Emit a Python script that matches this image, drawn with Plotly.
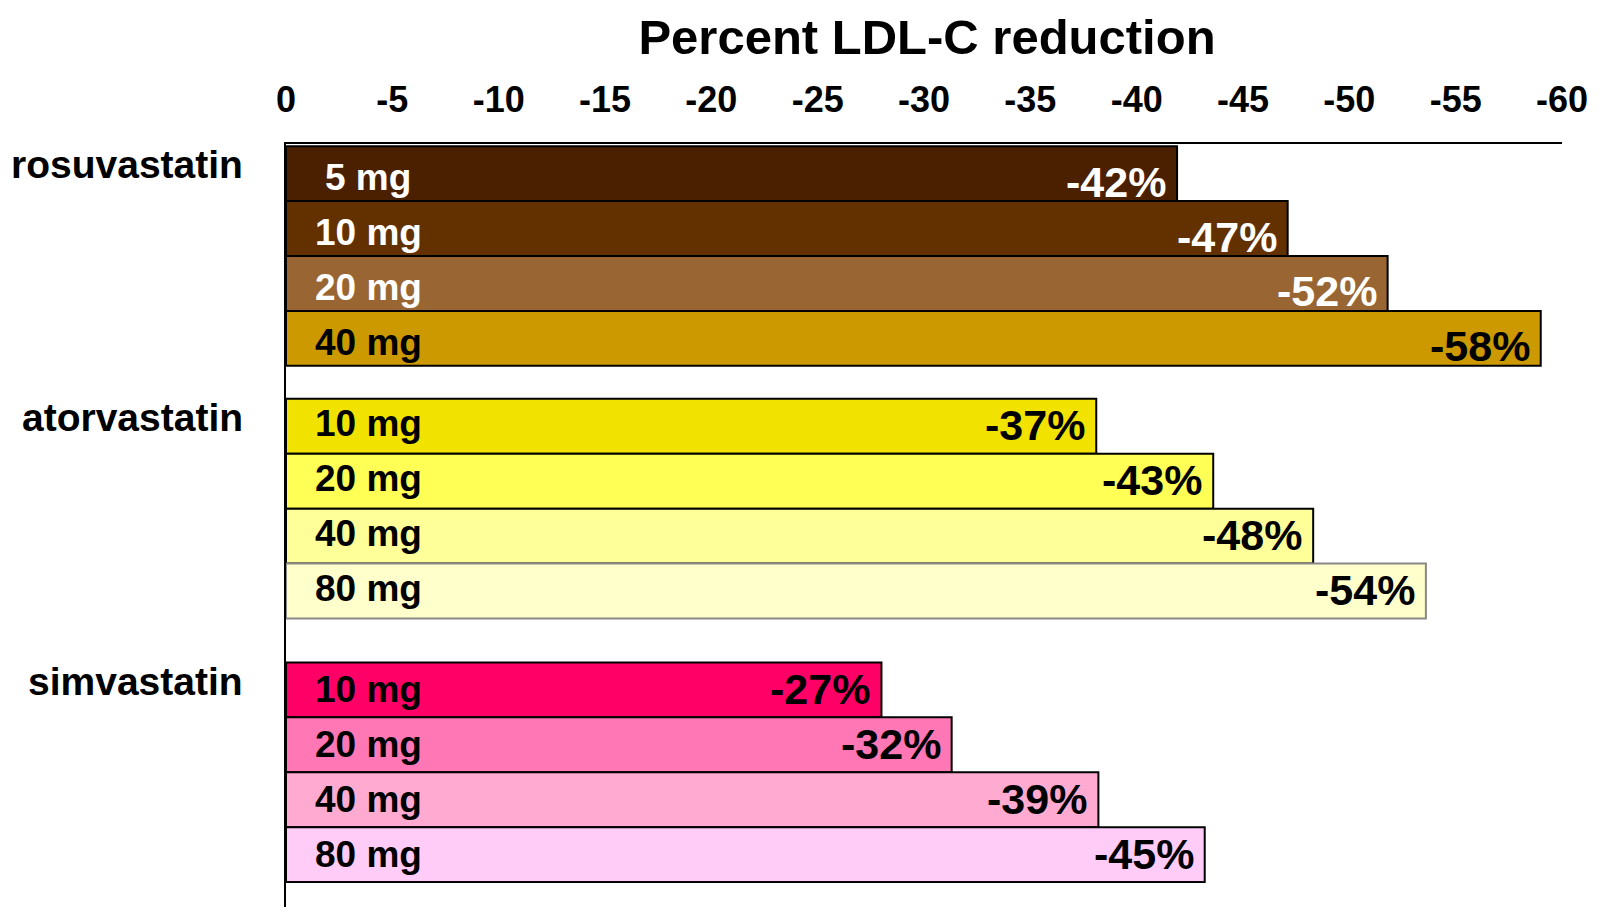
import plotly.graph_objects as go

# ---- data ----
drugs = ["rosuvastatin", "atorvastatin", "simvastatin"]
doses = [["5 mg", "10 mg", "20 mg", "40 mg"],
         ["10 mg", "20 mg", "40 mg", "80 mg"],
         ["10 mg", "20 mg", "40 mg", "80 mg"]]
# percent reductions as labelled on the chart
reductions = [[-42, -47, -52, -58],
              [-37, -43, -48, -54],
              [-27, -32, -39, -45]]
# bar lengths as drawn in the picture
bar_lengths = [[-41.9, -47.1, -51.8, -59.0],
               [-38.1, -43.6, -48.3, -53.6],
               [-28.0, -31.3, -38.2, -43.2]]
x_ticks = [0, -5, -10, -15, -20, -25, -30, -35, -40, -45, -50, -55, -60]
title_text = "Percent LDL-C reduction"

# ---- styles ----
fill_colors = [["#4a2000", "#633000", "#996633", "#cc9900"],
               ["#f2e200", "#ffff55", "#ffff99", "#ffffcc"],
               ["#ff0066", "#ff77b4", "#ffaad0", "#ffccf8"]]
line_colors = [["#000000"] * 4,
               ["#000000", "#000000", "#000000", "#888888"],
               ["#000000"] * 4]
text_colors = [["white", "white", "white", "black"],
               ["black"] * 4,
               ["black"] * 4]
group_start = [0.0, 4.6, 9.4]
dose_yshift = [-4, 3, 0]
value_yshift = [-8, 1, 1]
group_yshift = [9, 9, 8]

FONT = "Liberation Sans, Arial, sans-serif"

ys, xs, fc, lc = [], [], [], []
annotations = []
for g, drug in enumerate(drugs):
    for i, dose in enumerate(doses[g]):
        y = group_start[g] + i
        bl = bar_lengths[g][i]
        ys.append(y); xs.append(bl)
        fc.append(fill_colors[g][i]); lc.append(line_colors[g][i])
        annotations.append(dict(x=-3.86, y=y, xref="x", yref="y", text=f"<b>{dose}</b>",
                                showarrow=False, xanchor="center", yanchor="middle",
                                yshift=dose_yshift[g],
                                font=dict(family=FONT, size=37, color=text_colors[g][i])))
        annotations.append(dict(x=bl, y=y, xref="x", yref="y",
                                text=f"<b>{reductions[g][i]}%</b>",
                                showarrow=False, xanchor="right", yanchor="middle",
                                xshift=-9, yshift=value_yshift[g],
                                font=dict(family=FONT, size=43, color=text_colors[g][i])))
    annotations.append(dict(x=-0.032, y=group_start[g], xref="paper", yref="y",
                            text=f"<b>{drug}</b>", showarrow=False, xanchor="right",
                            yanchor="middle", yshift=group_yshift[g],
                            font=dict(family=FONT, size=39, color="black")))

fig = go.Figure(go.Bar(
    x=xs, y=ys, orientation="h", width=1.0,
    marker=dict(color=fc, line=dict(color=lc, width=2)),
    hoverinfo="skip",
))

fig.update_layout(
    width=1600, height=907,
    margin=dict(l=278, r=46, t=136, b=0),
    paper_bgcolor="white", plot_bgcolor="white",
    showlegend=False,
    title=dict(text=f"<b>{title_text}</b>", x=919 / 1600, xanchor="center",
               y=1 - 29 / 907, yanchor="middle",
               font=dict(family=FONT, size=49, color="black")),
    annotations=annotations,
    xaxis=dict(range=[0, -60], side="top", tickvals=x_ticks,
               ticktext=[f"<b>{t}</b>" for t in x_ticks],
               showgrid=False, zeroline=False,
               showline=True, linecolor="black", linewidth=2,
               ticks="", ticklabelstandoff=16,
               tickfont=dict(family=FONT, size=36, color="black")),
    yaxis=dict(range=[13.50, -0.54], showgrid=False, zeroline=False,
               showticklabels=False, ticks="",
               showline=True, linecolor="black", linewidth=2),
)

fig.write_html("out.html")
